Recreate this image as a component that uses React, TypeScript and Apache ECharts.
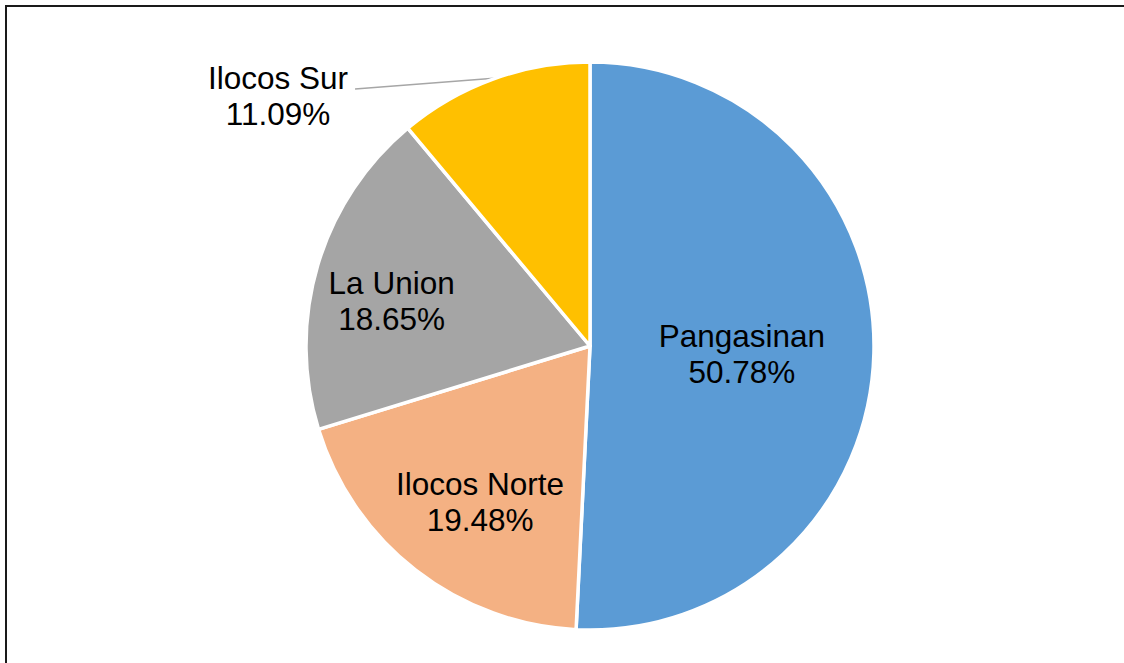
import React, { useEffect, useRef } from "react";
import * as echarts from "echarts";

const categories = ["Pangasinan", "Ilocos Norte", "La Union", "Ilocos Sur"];
const shares = [50.78, 19.48, 18.65, 11.09];
const colors = ["#5B9BD5", "#F4B183", "#A5A5A5", "#FFC000"];

// layout config
const CX = 590;
const CY = 346;
const R = 284;
const INSIDE_LABEL_RADIUS = [0.524, 0.668, 0.717];
const INSIDE_LABEL_NUDGE = [
  [0, 4],
  [9, 3],
  [1, 14],
];

export default function App() {
  const ref = useRef<HTMLDivElement>(null);

  useEffect(() => {
    if (!ref.current) return;
    const chart = echarts.init(ref.current, undefined, { renderer: "svg" });
    const data = categories.map((name, i) => ({
      name,
      value: shares[i],
      itemStyle: { color: colors[i] },
      label:
        i === 3
          ? { position: "outside" as const }
          : { position: "inside" as const },
      labelLine: i === 3 ? { show: true } : { show: false },
    }));
    chart.setOption({
      animation: false,
      backgroundColor: "#ffffff",
      graphic: [
        {
          type: "rect",
          shape: { x: 6, y: 6, width: 1200, height: 700 },
          style: { fill: "none", stroke: "#1a1a1a", lineWidth: 2 },
          silent: true,
        },
      ],
      series: [
        {
          type: "pie",
          center: [CX, CY],
          radius: [0, R],
          startAngle: 90,
          clockwise: true,
          avoidLabelOverlap: false,
          itemStyle: { borderColor: "#ffffff", borderWidth: 3.5 },
          label: {
            show: true,
            formatter: (p: any) => `${p.name}\n${Number(p.value).toFixed(2)}%`,
            fontFamily: "Liberation Sans, Arial, sans-serif",
            fontSize: 31.5,
            lineHeight: 36,
            color: "#000000",
            align: "center",
          },
          labelLine: {
            lineStyle: { color: "#A6A6A6", width: 1.5 },
            length: 0,
            length2: 140,
          },
          emphasis: { disabled: true },
          labelLayout: (p: any) => {
            const i = p.dataIndex;
            const lr = p.labelRect;
            const lx = lr.x + lr.width / 2;
            const ly = lr.y + lr.height / 2;
            if (i < 3) {
              const k = INSIDE_LABEL_RADIUS[i] / 0.5;
              return {
                x: CX + (lx - CX) * k + INSIDE_LABEL_NUDGE[i][0],
                y: CY + (ly - CY) * k + INSIDE_LABEL_NUDGE[i][1],
                align: "center",
                verticalAlign: "middle",
              };
            }
            const a = p.labelLinePoints && p.labelLinePoints[0];
            if (!a) return {};
            return {
              x: a[0] - 215,
              y: a[1] + 17,
              align: "center",
              verticalAlign: "middle",
              labelLinePoints: [
                [a[0] + 4, a[1] - 1],
                [a[0] - 138, a[1] + 10],
              ],
            };
          },
          data,
        },
      ],
    });
    return () => chart.dispose();
  }, []);

  return (
    <div
      ref={ref}
      style={{ position: "absolute", left: 0, top: 0, width: 1124, height: 663 }}
    />
  );
}
